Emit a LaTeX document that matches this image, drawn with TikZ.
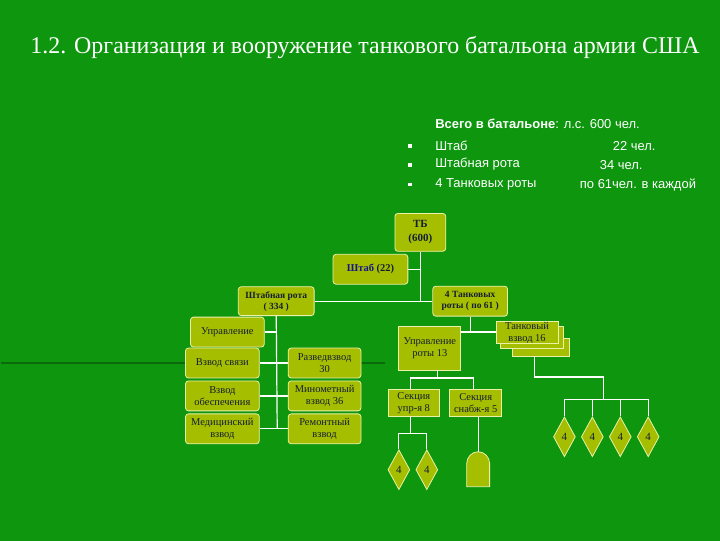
\documentclass[tikz,border=0pt]{standalone}
\usepackage{fontspec}
\setmainfont{Liberation Serif}
\newfontfamily\sansf{Liberation Sans}
\usetikzlibrary{shapes.geometric}
\definecolor{bg}{RGB}{14,150,14}
\definecolor{boxf}{RGB}{166,190,0}
\definecolor{edgec}{RGB}{235,240,170}
\definecolor{txt}{RGB}{20,30,50}
\definecolor{blu}{RGB}{20,20,140}
\begin{document}
\begin{tikzpicture}[x=1pt,y=-1pt,
  bx/.style={draw=edgec,fill=boxf,rounded corners=3pt,line width=0.8pt,align=center,text=txt,font=\fontsize{10.5}{11.5}\selectfont,inner sep=0.5pt},
  sq/.style={draw=edgec,fill=boxf,line width=0.8pt,align=center,text=txt,font=\fontsize{10.5}{12}\selectfont,inner sep=0.5pt},
  dia/.style={diamond,draw=edgec,fill=boxf,line width=0.8pt,minimum width=22pt,minimum height=40pt,inner sep=0pt,text=txt,font=\fontsize{11}{12}\selectfont,aspect=0.55},
  ln/.style={draw=white,line width=1.2pt}]
\fill[bg] (-1,-1) rectangle (721,541);
\useasboundingbox (0,0) rectangle (720,540);
\draw[bg!70!black,line width=2pt] (0,363) -- (385,363);
\node[text=white,font=\fontsize{24}{26}\selectfont] (title) at (365,47) {1.2. Организация и вооружение танкового батальона армии США};
\begin{scope}[every node/.style={text=white,font=\sansf\fontsize{13}{14}\selectfont,anchor=west}]
\node (tot) at (432,123) {\textbf{Всего в батальоне}: л.с. 600 чел.};
\node (a1) at (432,145) {Штаб}; \node (a2) at (432,164) {Штабная рота}; \node (a3) at (432,184) {4 Танковых роты};
\node (b1) at (610,145) {22 чел.}; \node (b2) at (597,164) {34 чел.}; \node (b3) at (577,184) {по 61чел. в каждой};
\end{scope}
\foreach \yy in {145,164,184} \fill[white] (408,\yy-2) rectangle (412,\yy+2);
% top
\node[bx,minimum width=51pt,minimum height=38pt,font=\bfseries\fontsize{11}{14}\selectfont] (tb) at (420.5,232) {ТБ\\(600)};
\node[bx,minimum width=75pt,minimum height=30pt] (sht) at (370.5,269) {\textbf{\color{blu}Штаб} \textbf{(22)}};
\node[bx,minimum width=76pt,minimum height=29pt,font=\bfseries\fontsize{9.5}{11}\selectfont] (shr) at (276,301) {Штабная рота\\( 334 )};
\node[bx,minimum width=75pt,minimum height=30pt,font=\bfseries\fontsize{9.5}{11}\selectfont] (tr) at (470.5,301) {4 Танковых\\роты ( по 61 )};
\coordinate (j1) at (420.5,301);
\draw[ln] (tb.south) -- (j1); \draw[ln] (shr.east) -- (tr.west); \draw[ln] (sht.east) -- (420.5,269);
% left column
\node[bx,minimum width=74pt,minimum height=30pt] (upr) at (227,332) {Управление};
\node[bx,minimum width=74pt,minimum height=30pt] (sv) at (222,363) {Взвод связи};
\node[bx,minimum width=74pt,minimum height=30pt] (ob) at (222,396) {Взвод\\обеспечения};
\node[bx,minimum width=74pt,minimum height=30pt] (med) at (222,429) {Медицинский\\взвод};
\node[bx,minimum width=73pt,minimum height=30pt] (raz) at (324.5,363) {Разведвзвод\\30};
\node[bx,minimum width=73pt,minimum height=30pt] (min) at (324.5,396) {Минометный\\взвод 36};
\node[bx,minimum width=73pt,minimum height=30pt] (rem) at (324.5,429) {Ремонтный\\взвод};
\coordinate (v2) at (277,429);
\draw[ln] (shr.south) -- (v2);
\draw[ln] (upr.east) -- (277,332);
\draw[ln] (sv.east) -- (raz.west); \draw[ln] (ob.east) -- (min.west); \draw[ln] (med.east) -- (rem.west);
% tank companies
\node[sq,minimum width=57pt,minimum height=18pt] (tv3) at (541.5,347) {};
\node[sq,minimum width=63pt,minimum height=22pt] (tv2) at (532.5,337) {};
\node[sq,minimum width=62pt,minimum height=21pt] (tv) at (527.5,332.5) {Танковый\\взвод 16};
\node[sq,minimum width=62pt,minimum height=44pt] (urt) at (430,348) {Управление\\роты 13};
\coordinate (j2) at (470.5,332);
\draw[ln] (tr.south) -- (j2); \draw[ln] (urt.east |- j2) -- (tv.west |- j2);
\node[sq,minimum width=52pt,minimum height=28pt] (s1) at (414,403) {Секция\\упр-я 8};
\node[sq,minimum width=52pt,minimum height=28pt] (s2) at (476,403) {Секция\\снабж-я 5};
\coordinate (j3) at (438,378);
\draw[ln] (438,370) -- (j3); \draw[ln] (411,389) |- (j3) -| (474,389);
\node[dia] (d1) at (399,470) {4}; \node[dia] (d2) at (427,470) {4};
\draw[ln] (411,417) -- (411,434); \draw[ln] (d1.north) |- (411,434) -| (d2.north);
\draw[draw=edgec,fill=boxf,line width=0.8pt] (467,487) -- (467,464) arc[start angle=180,end angle=0,x radius=11.5,y radius=-12] -- (490,487) -- cycle;
\coordinate (bt) at (478.5,452);
\draw[ln] (s2.south -| bt) -- (bt);
\node[dia] (e1) at (565,437) {4}; \node[dia] (e2) at (593,437) {4};
\node[dia] (e3) at (621,437) {4}; \node[dia] (e4) at (649,437) {4};
\coordinate (j4) at (604,377); \coordinate (j5) at (604,400);
\draw[ln] (535,356) |- (j4) -- (j5);
\draw[ln] (e1.north) |- (j5) -| (e4.north);
\draw[ln] (e2.north) -- (e2.north |- j5); \draw[ln] (e3.north) -- (e3.north |- j5);
\end{tikzpicture}
\end{document}
